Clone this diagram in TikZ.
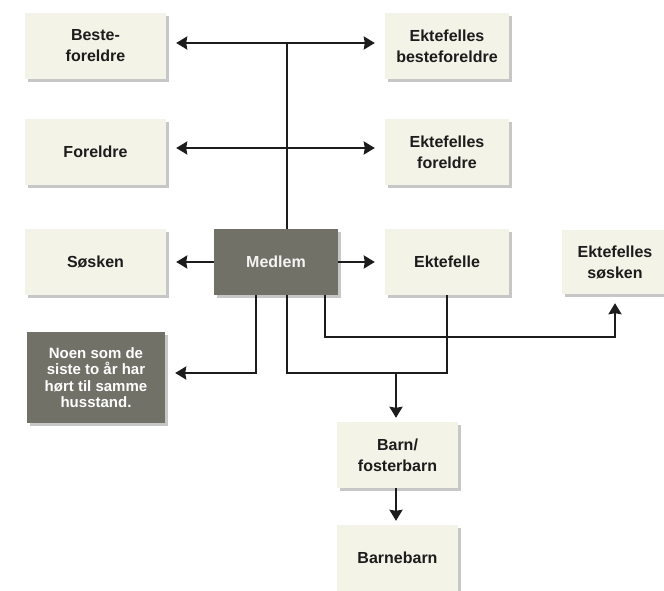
\documentclass[tikz,border=0pt]{standalone}
\usepackage{fontspec}
\setmainfont{Liberation Sans}
\usetikzlibrary{arrows.meta,shadows}
\definecolor{cream}{RGB}{244,243,231}
\definecolor{darkgrey}{RGB}{113,113,104}
\definecolor{ink}{RGB}{28,28,28}
\begin{document}
\begin{tikzpicture}[x=1pt,y=-1pt,
  box/.style={draw=none, fill=cream, align=center, text=ink,
    font=\fontsize{16}{21}\selectfont\bfseries, inner sep=0pt,
    drop shadow={shadow xshift=2.5pt, shadow yshift=-3pt, fill=black, opacity=0.22}},
  darkbox/.style={box, fill=darkgrey, text=white},
  conn/.style={line width=2.1pt, draw=ink},
  tip/.tip={Stealth[length=11pt,width=13pt,inset=1pt]},
  arr/.style={conn, -tip},
  darr/.style={conn, tip-tip}]
\fill[white] (0,0) rectangle (664,591);
\useasboundingbox (0,0) rectangle (664,591);

\node[box, minimum width=141pt, minimum height=66pt] (beste) at (95.5,46) {Beste-\\foreldre};
\node[box, minimum width=124pt, minimum height=66pt] (ebeste) at (447,46) {Ektefelles\\besteforeldre};
\node[box, minimum width=141pt, minimum height=66pt] (foreldre) at (95.5,152) {Foreldre};
\node[box, minimum width=124pt, minimum height=66pt] (efor) at (447,152) {Ektefelles\\foreldre};
\node[box, minimum width=141pt, minimum height=66pt] (sosken) at (95.5,262) {Søsken};
\node[darkbox, minimum width=124pt, minimum height=66pt, text=white!92!darkgrey] (medlem) at (276,262) {Medlem};
\node[box, minimum width=124pt, minimum height=66pt] (ektefelle) at (447,262) {Ektefelle};
\node[box, minimum width=106pt, minimum height=64pt] (esosken) at (615,262) {Ektefelles\\søsken};
\node[darkbox, minimum width=138pt, minimum height=91pt, font=\fontsize{15}{16.5}\selectfont\bfseries] (noen) at (96,377.5) {Noen som de\\siste to år har\\hørt til samme\\husstand.};
\node[box, minimum width=121pt, minimum height=66pt] (barn) at (397.5,455) {Barn/\\fosterbarn};
\node[box, minimum width=121pt, minimum height=66pt] (barnebarn) at (397.5,558) {Barnebarn};

\coordinate (j1) at (287,43);
\coordinate (j2) at (287,148);
\draw[darr, shorten <=10pt, shorten >=10pt] (beste.east |- j1) -- (ebeste.west |- j1);
\draw[darr, shorten <=10pt, shorten >=10pt] (foreldre.east |- j2) -- (efor.west |- j2);
\draw[conn] (j1) -- (medlem.north -| j1);
\draw[arr, shorten >=10pt] (medlem.west) -- (sosken.east);
\draw[arr, shorten >=10pt] (medlem.east) -- (ektefelle.west);

\coordinate (a1) at (256,373);
\coordinate (a2) at (287,373);
\coordinate (a3) at (396,373);
\coordinate (a4) at (325,337);
\draw[arr, shorten >=10pt] (medlem.south -| a1) |- (noen.east |- a1);
\draw[conn] (medlem.south -| a2) |- (ektefelle.south |- a2) -- (ektefelle.south);
\draw[arr, shorten >=4pt] (a3) -- (barn.north -| a3);
\draw[arr, shorten >=9pt] (medlem.south -| a4) |- (esosken.south |- a4) -- (esosken.south);
\draw[arr, shorten >=4pt] (barn.south -| a3) -- (barnebarn.north -| a3);
\end{tikzpicture}
\end{document}
